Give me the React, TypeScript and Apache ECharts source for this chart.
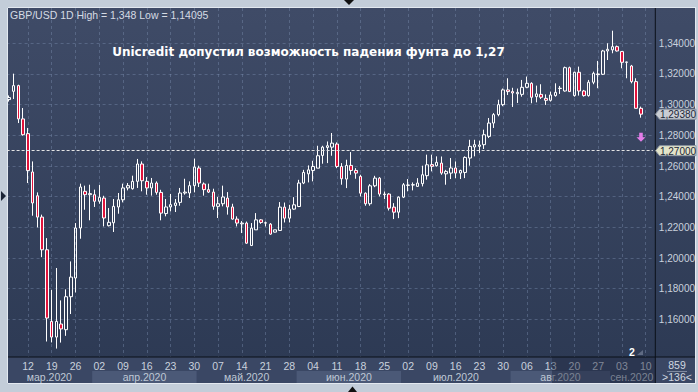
import React, { useEffect, useRef } from 'react';
import * as echarts from 'echarts';

// ---- data ----
const FIRST_DAY = '2020-03-06';
const SLOT_COUNT = 136;

const opens = [
  1.3033, 1.3087, 1.3124, 1.2907, 1.2811, 1.2561, 1.2406, 1.2267, 1.2054, 1.1587,
  1.1485, 1.1570, 1.1533, 1.1748, 1.1870, 1.2196, 1.2435, 1.2413, 1.2413, 1.2370,
  1.2391, 1.2211, 1.2230, 1.2333, 1.2380, 1.2457, 1.2452, 1.2500, 1.2613, 1.2500,
  1.2457, 1.2489, 1.2428, 1.2290, 1.2333, 1.2343, 1.2363, 1.2424, 1.2424, 1.2472,
  1.2587, 1.2483, 1.2446, 1.2430, 1.2337, 1.2354, 1.2391, 1.2333, 1.2254, 1.2223,
  1.2228, 1.2082, 1.2184, 1.2249, 1.2228, 1.2221, 1.2169, 1.2180, 1.2332, 1.2260,
  1.2319, 1.2336, 1.2489, 1.2549, 1.2571, 1.2586, 1.2669, 1.2721, 1.2723, 1.2743,
  1.2597, 1.2515, 1.2604, 1.2571, 1.2532, 1.2423, 1.2354, 1.2471, 1.2521, 1.2417,
  1.2417, 1.2332, 1.2299, 1.2397, 1.2474, 1.2476, 1.2467, 1.2485, 1.2537, 1.2609,
  1.2602, 1.2619, 1.2549, 1.2554, 1.2587, 1.2554, 1.2558, 1.2652, 1.2724, 1.2728,
  1.2739, 1.2793, 1.2880, 1.2935, 1.3000, 1.3096, 1.3085, 1.3071, 1.3067, 1.3113,
  1.3139, 1.3052, 1.3067, 1.3041, 1.3028, 1.3059, 1.3105, 1.3089, 1.3241, 1.3059,
  1.3211, 1.3089, 1.3059, 1.3146, 1.3200, 1.3198, 1.3350, 1.3357, 1.3378, 1.3346,
  1.3276, 1.3252, 1.3150, 1.2976,
];
const closes = [
  1.3046, 1.3124, 1.2907, 1.2804, 1.2570, 1.2359, 1.2267, 1.2054, 1.1609, 1.1485,
  1.1587, 1.1538, 1.1748, 1.1876, 1.2196, 1.2463, 1.2413, 1.2420, 1.2370, 1.2396,
  1.2261, 1.2233, 1.2337, 1.2380, 1.2457, 1.2472, 1.2500, 1.2613, 1.2504, 1.2457,
  1.2489, 1.2428, 1.2293, 1.2333, 1.2348, 1.2359, 1.2424, 1.2430, 1.2472, 1.2593,
  1.2489, 1.2446, 1.2430, 1.2337, 1.2354, 1.2398, 1.2333, 1.2254, 1.2228, 1.2228,
  1.2097, 1.2195, 1.2249, 1.2232, 1.2230, 1.2156, 1.2184, 1.2332, 1.2260, 1.2319,
  1.2347, 1.2489, 1.2558, 1.2575, 1.2597, 1.2667, 1.2723, 1.2732, 1.2749, 1.2597,
  1.2517, 1.2604, 1.2571, 1.2554, 1.2423, 1.2354, 1.2471, 1.2521, 1.2417, 1.2413,
  1.2325, 1.2299, 1.2397, 1.2478, 1.2476, 1.2478, 1.2489, 1.2543, 1.2608, 1.2598,
  1.2624, 1.2554, 1.2565, 1.2587, 1.2554, 1.2571, 1.2656, 1.2728, 1.2739, 1.2737,
  1.2804, 1.2880, 1.2935, 1.3000, 1.3096, 1.3085, 1.3076, 1.3080, 1.3113, 1.3139,
  1.3048, 1.3070, 1.3048, 1.3028, 1.3063, 1.3080, 1.3107, 1.3241, 1.3085, 1.3211,
  1.3089, 1.3059, 1.3146, 1.3204, 1.3196, 1.3350, 1.3361, 1.3378, 1.3350, 1.3276,
  1.3278, 1.3150, 1.2976, 1.2938,
];
const lows = [
  1.3020, 1.3037, 1.2880, 1.2798, 1.2489, 1.2276, 1.2200, 1.2006, 1.1456, 1.1450,
  1.1410, 1.1449, 1.1493, 1.1635, 1.1776, 1.2126, 1.2315, 1.2246, 1.2333, 1.2354,
  1.2206, 1.2206, 1.2170, 1.2289, 1.2363, 1.2441, 1.2446, 1.2457, 1.2435, 1.2413,
  1.2407, 1.2413, 1.2246, 1.2272, 1.2304, 1.2300, 1.2341, 1.2413, 1.2391, 1.2428,
  1.2463, 1.2407, 1.2424, 1.2315, 1.2261, 1.2337, 1.2283, 1.2250, 1.2206, 1.2163,
  1.2093, 1.2078, 1.2184, 1.2223, 1.2206, 1.2152, 1.2167, 1.2178, 1.2232, 1.2232,
  1.2315, 1.2332, 1.2482, 1.2493, 1.2500, 1.2586, 1.2615, 1.2619, 1.2667, 1.2586,
  1.2478, 1.2456, 1.2543, 1.2517, 1.2402, 1.2341, 1.2341, 1.2462, 1.2402, 1.2384,
  1.2310, 1.2254, 1.2260, 1.2391, 1.2435, 1.2441, 1.2467, 1.2467, 1.2511, 1.2565,
  1.2596, 1.2543, 1.2478, 1.2515, 1.2521, 1.2515, 1.2521, 1.2602, 1.2663, 1.2685,
  1.2711, 1.2782, 1.2848, 1.2924, 1.2990, 1.3063, 1.2985, 1.3011, 1.3052, 1.3107,
  1.3009, 1.3015, 1.3037, 1.2998, 1.3020, 1.3052, 1.3070, 1.3085, 1.3085, 1.3052,
  1.3059, 1.3052, 1.3052, 1.3133, 1.3107, 1.3193, 1.3291, 1.3335, 1.3346, 1.3237,
  1.3172, 1.3139, 1.2976, 1.2915,
];
const highs = [
  1.3060, 1.3202, 1.3130, 1.2978, 1.2848, 1.2630, 1.2428, 1.2283, 1.2130, 1.1793,
  1.1935, 1.1724, 1.1796, 1.1978, 1.2228, 1.2485, 1.2472, 1.2478, 1.2446, 1.2476,
  1.2406, 1.2326, 1.2385, 1.2424, 1.2485, 1.2489, 1.2537, 1.2646, 1.2630, 1.2528,
  1.2522, 1.2500, 1.2445, 1.2385, 1.2418, 1.2385, 1.2457, 1.2517, 1.2500, 1.2648,
  1.2602, 1.2493, 1.2485, 1.2452, 1.2398, 1.2472, 1.2430, 1.2354, 1.2272, 1.2241,
  1.2238, 1.2228, 1.2293, 1.2254, 1.2238, 1.2228, 1.2184, 1.2365, 1.2362, 1.2347,
  1.2397, 1.2510, 1.2575, 1.2604, 1.2634, 1.2732, 1.2732, 1.2760, 1.2815, 1.2754,
  1.2619, 1.2641, 1.2691, 1.2586, 1.2543, 1.2428, 1.2482, 1.2536, 1.2528, 1.2434,
  1.2423, 1.2358, 1.2402, 1.2489, 1.2515, 1.2493, 1.2521, 1.2602, 1.2674, 1.2674,
  1.2663, 1.2662, 1.2575, 1.2652, 1.2630, 1.2576, 1.2663, 1.2771, 1.2771, 1.2765,
  1.2837, 1.2913, 1.2945, 1.3032, 1.3105, 1.3172, 1.3110, 1.3105, 1.3161, 1.3183,
  1.3146, 1.3124, 1.3133, 1.3067, 1.3085, 1.3139, 1.3122, 1.3248, 1.3248, 1.3215,
  1.3248, 1.3096, 1.3161, 1.3215, 1.3285, 1.3357, 1.3400, 1.3482, 1.3385, 1.3350,
  1.3280, 1.3259, 1.3172, 1.2987,
];

const dayTickLabels = ['12', '19', '26', '02', '09', '16', '23', '30', '07', '14', '21', '28', '04', '11',
  '18', '25', '02', '09', '16', '23', '30', '06', '13', '20', '27', '03', '10'];
const monthLabels = ['мар.2020', 'апр.2020', 'май.2020', 'июн.2020', 'июл.2020', 'авг.2020', 'сен.2020'];
const yTickValues = [1.16, 1.18, 1.2, 1.22, 1.24, 1.26, 1.28, 1.3, 1.32, 1.34];
const Y_MIN = 1.1355;
const Y_MAX = 1.363;
const LAST_PRICE = 1.2938;
const TARGET_LEVEL = 1.27;
const SIGNAL_INDEX = 133;
const SIGNAL_LEVEL = 1.2788;
const HEADER = 'GBP/USD 1D High = 1,348 Low = 1,14095';
const TITLE = 'Unicredit допустил возможность падения фунта до 1,27';
const TOTAL_BARS = '859';
const VISIBLE_BARS = '>136<';

// ---- helpers ----
function buildTradingDays(first: string, n: number): string[] {
  const out: string[] = [];
  const d = new Date(first + 'T00:00:00Z');
  while (out.length < n) {
    const wd = d.getUTCDay();
    if (wd !== 0 && wd !== 6) out.push(d.toISOString().slice(0, 10));
    d.setUTCDate(d.getUTCDate() + 1);
  }
  return out;
}

const dates = buildTradingDays(FIRST_DAY, SLOT_COUNT);
const thursdayIdx: number[] = [];
dates.forEach((s, i) => {
  if (new Date(s + 'T00:00:00Z').getUTCDay() === 4) thursdayIdx.push(i);
});
const monthBands: number[][] = [];
dates.forEach((s, i) => {
  const m = s.slice(0, 7);
  const last = monthBands[monthBands.length - 1];
  if (!last || dates[last[0]].slice(0, 7) !== m) monthBands.push([i, i, monthBands.length % 2]);
  else last[1] = i;
});

const candleData = opens.map((o, i) => [o, closes[i], lows[i], highs[i]]);
const fmt = (v: number) => v.toFixed(5).replace('.', ',');

const NARROW = '"Liberation Sans Narrow", "Liberation Sans", Arial, sans-serif';

export default function App() {
  const ref = useRef<HTMLDivElement>(null);

  useEffect(() => {
    if (!ref.current) return;
    const chart = echarts.init(ref.current, undefined, { renderer: 'svg' });
    const gridLine = { show: true, lineStyle: { color: 'rgba(125,142,176,0.42)', type: [3, 3], width: 1 } };
    const option: any = {
      animation: false,
      grid: [
        { left: 6.6, top: 8, width: 646.6, height: 349 },
        { left: 6.6, top: 357, width: 646.6, height: 26 },
      ],
      xAxis: [
        { type: 'category', gridIndex: 0, data: dates, show: false, boundaryGap: true },
        {
          type: 'value', gridIndex: 0, min: -0.5, max: SLOT_COUNT - 0.5, position: 'bottom',
          axisLine: { show: false, onZero: false },
          axisTick: { show: false, customValues: thursdayIdx },
          axisLabel: {
            customValues: thursdayIdx,
            formatter: (v: number) => dayTickLabels[thursdayIdx.indexOf(Math.round(v))] ?? '',
            color: '#c9d1dd', fontSize: 10.5, fontFamily: NARROW, margin: 3,
          },
          splitLine: gridLine,
        },
        { type: 'value', gridIndex: 1, min: -0.5, max: SLOT_COUNT - 0.5, show: false },
      ],
      yAxis: [
        {
          type: 'value', gridIndex: 0, position: 'right', min: Y_MIN, max: Y_MAX,
          axisLine: { show: false },
          axisTick: { show: false, customValues: yTickValues },
          axisLabel: {
            customValues: yTickValues, formatter: (v: number) => fmt(v),
            color: '#c9d1dd', fontSize: 10, fontFamily: NARROW, margin: 6,
          },
          splitLine: gridLine,
        },
        { type: 'value', gridIndex: 1, min: 0, max: 1, show: false },
      ],
      series: [
        {
          type: 'candlestick', xAxisIndex: 0, yAxisIndex: 0, data: candleData, barWidth: 3,
          itemStyle: {
            color: 'rgba(0,0,0,0)', color0: '#e1133c',
            borderColor: '#ffffff', borderColor0: '#ffffff', borderWidth: 1,
          },
          markLine: {
            silent: true, symbol: 'none', label: { show: false },
            lineStyle: { color: '#e4e4e4', type: [3, 2], width: 1 },
            data: [{ yAxis: TARGET_LEVEL }],
          },
          markPoint: {
            silent: true,
            symbol: 'path://M3 0 H7 V5 H10 L5 10 L0 5 H3 Z',
            symbolSize: [9, 9],
            itemStyle: { color: '#e37ee9' },
            label: { show: false },
            data: [{ coord: [dates[SIGNAL_INDEX], SIGNAL_LEVEL] }],
          },
        },
        {
          type: 'custom', xAxisIndex: 2, yAxisIndex: 1, data: monthBands, silent: true,
          renderItem: (params: any, api: any) => {
            const s = api.value(0), e = api.value(1), light = api.value(2);
            const p0 = api.coord([s - 0.5, 1]);
            const p1 = api.coord([e + 0.5, 0]);
            const bottom = p1[1];
            return {
              type: 'group',
              children: [
                {
                  type: 'rect',
                  shape: { x: p0[0], y: bottom - 12, width: p1[0] - p0[0], height: 12 },
                  style: { fill: light ? '#4b5977' : '#3a4764' },
                },
                {
                  type: 'text',
                  style: {
                    text: monthLabels[params.dataIndex], x: (p0[0] + p1[0]) / 2, y: bottom - 6,
                    fill: '#bfc8d5', font: '10.5px ' + NARROW,
                    align: 'center', verticalAlign: 'middle', textAlign: 'center', textVerticalAlign: 'middle',
                  },
                },
              ],
            };
          },
        },
      ],
    };
    chart.setOption(option);

    const yLast = chart.convertToPixel({ yAxisIndex: 0 } as any, LAST_PRICE) as number;
    const yTarget = chart.convertToPixel({ yAxisIndex: 0 } as any, TARGET_LEVEL) as number;
    const tag = (y: number, fill: string, text: string) => [
      {
        type: 'polygon', z: 100, silent: true,
        shape: { points: [[655.5, y], [659.5, y - 5], [696, y - 5], [696, y + 5], [659.5, y + 5]] },
        style: { fill, stroke: '#8d96a3', lineWidth: 1 },
      },
      {
        type: 'text', z: 101, silent: true,
        style: {
          text, x: 678, y: y + 0.5, fill: '#1b2638', font: '10px ' + NARROW,
          align: 'center', verticalAlign: 'middle', textAlign: 'center', textVerticalAlign: 'middle',
        },
      },
    ];
    const txt = (text: string, x: number, y: number, font: string, fill: string, align = 'left') => ({
      type: 'text', z: 100, silent: true,
      style: { text, x, y, font, fill, align, verticalAlign: 'middle', textAlign: align, textVerticalAlign: 'middle' },
    });
    chart.setOption({
      graphic: [
        { type: 'rect', z: 99, silent: true, shape: { x: 552, y: 357, width: 103, height: 26 }, style: { fill: 'rgba(24,32,52,0.42)' } },
        { type: 'rect', z: 100, silent: true, shape: { x: 8, y: 356.5, width: 687, height: 1 }, style: { fill: '#0b1019' } },
        { type: 'rect', z: 100, silent: true, shape: { x: 654.8, y: 8, width: 1, height: 375 }, style: { fill: '#0b1019' } },
        { type: 'rect', z: 102, silent: true, shape: { x: 0, y: 0, width: 8, height: 392 }, style: { fill: '#c3cdd9' } },
        { type: 'rect', z: 102, silent: true, shape: { x: 7, y: 8, width: 1, height: 375 }, style: { fill: '#e3e9f0' } },
        { type: 'polygon', z: 103, silent: true, shape: { points: [[344, 0], [354, 0], [349, 5]] }, style: { fill: '#111' } },
        { type: 'polygon', z: 103, silent: true, shape: { points: [[348, 392], [357, 392], [352.5, 386.5]] }, style: { fill: '#111' } },
        { type: 'polygon', z: 103, silent: true, shape: { points: [[1, 191], [1, 201], [6, 196]] }, style: { fill: '#1b2436' } },
        txt(HEADER, 10, 15, '10.5px "Liberation Sans", Arial, sans-serif', '#d5dbe4'),
        txt(TITLE, 308.5, 51.5, 'bold 12px "DejaVu Sans", sans-serif', '#ffffff', 'center'),
        txt(TOTAL_BARS, 677, 365, '10.5px ' + NARROW, '#d0d7e1', 'center'),
        { type: 'rect', z: 100, silent: true, shape: { x: 667, y: 371, width: 20, height: 1 }, style: { fill: '#7f8aa0' } },
        txt(VISIBLE_BARS, 677, 377, '10.5px ' + NARROW, '#d0d7e1', 'center'),
        txt('2', 632, 352, 'bold 10.5px "Liberation Sans", Arial, sans-serif', '#ffffff', 'center'),
        { type: 'polygon', z: 100, silent: true, shape: { points: [[637, 355], [643, 355], [643, 350]] }, style: { fill: '#5f6b83' } },
        ...tag(yLast, '#c9cdd3', fmt(LAST_PRICE)),
        ...tag(yTarget, '#e3e4c9', fmt(TARGET_LEVEL)),
      ],
    });

    return () => chart.dispose();
  }, []);

  return (
    <div style={{ position: 'fixed', left: 0, top: 0, width: 698, height: 392, background: '#c3cdd9', overflow: 'hidden' }}>
      <div style={{ position: 'absolute', left: 7, top: 7, width: 689, height: 377, background: '#e3e9f0' }} />
      <div style={{ position: 'absolute', left: 8, top: 8, width: 687, height: 375, background: 'linear-gradient(to bottom, #3f4b67 0%, #2c3953 100%)' }} />
      <div style={{ position: 'absolute', left: 8, top: 357, width: 687, height: 26, background: '#3a4764' }} />
      <div ref={ref} style={{ position: 'absolute', left: 0, top: 0, width: 698, height: 392 }} />
    </div>
  );
}
